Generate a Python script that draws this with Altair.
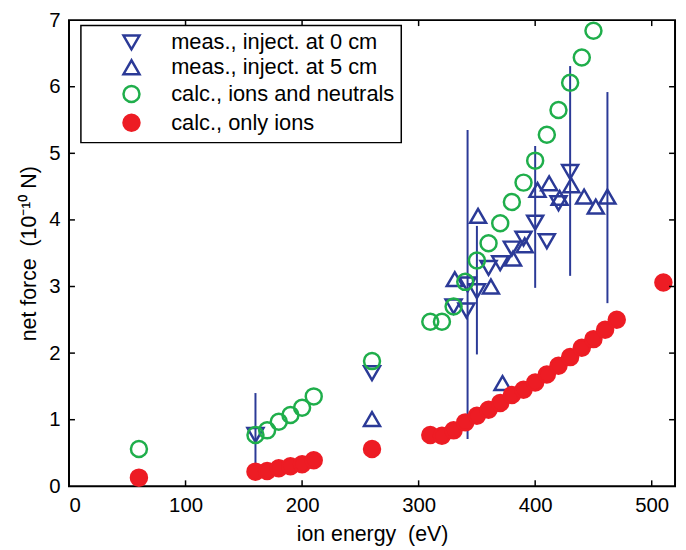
import altair as alt
import pandas as pd

# ---- data ----
down_energy = [160, 260, 330, 341, 342, 350, 360, 370, 380, 390, 400, 410, 420, 430]
down_force = [0.77, 1.70, 2.70, 2.64, 3.03, 2.93, 3.28, 3.35, 3.57, 3.72, 3.96, 3.68, 4.25, 4.72]

up_energy = [260, 331, 351, 362, 372, 381, 391, 402, 412, 421, 431, 442, 452, 462]
up_force = [1.01, 3.11, 4.06, 3.00, 1.55, 3.42, 3.62, 4.45, 4.55, 4.33, 4.52, 4.35, 4.20, 4.35]

green_energy = [60, 160, 170, 180, 190, 200, 210, 260, 310, 320, 330, 340, 350,
                360, 370, 380, 390, 400, 410, 420, 430, 440, 450]
green_force = [0.56, 0.77, 0.84, 0.97, 1.07, 1.18, 1.35, 1.88, 2.47, 2.47, 2.70, 3.07, 3.39,
               3.65, 3.95, 4.27, 4.56, 4.89, 5.28, 5.65, 6.06, 6.44, 6.84]

red_energy = [60, 160, 170, 180, 190, 200, 210, 260, 310, 320, 330, 340, 350, 360, 370,
              380, 390, 400, 410, 420, 430, 440, 450, 460, 470, 510]
red_force = [0.13, 0.22, 0.23, 0.27, 0.30, 0.33, 0.39, 0.56, 0.77, 0.76, 0.84, 0.96, 1.06,
             1.15, 1.25, 1.37, 1.45, 1.56, 1.68, 1.81, 1.94, 2.08, 2.21, 2.35, 2.50, 3.06]

err_energy = [160, 342, 350, 400, 430, 462]
err_low = [0.14, 0.71, 1.98, 2.98, 3.16, 2.75]
err_high = [1.40, 5.35, 3.91, 5.11, 6.31, 5.92]

series_names = ["meas., inject. at 0 cm", "meas., inject. at 5 cm",
                "calc., ions and neutrals", "calc., only ions"]
x_ticks = [100, 200, 300, 400, 500]
y_ticks = [1, 2, 3, 4, 5, 6]

BLUE = "#2b3a97"
GREEN = "#1fae4b"
RED = "#ed1c24"
FONT = "Liberation Sans"
W, H = 611, 470
TL = 6

rows = []
for e, f in zip(down_energy, down_force):
    rows.append({"energy": e, "force": f, "series": series_names[0]})
for e, f in zip(up_energy, up_force):
    rows.append({"energy": e, "force": f, "series": series_names[1]})
for e, f in zip(green_energy, green_force):
    rows.append({"energy": e, "force": f, "series": series_names[2]})
for e, f in zip(red_energy, red_force):
    rows.append({"energy": e, "force": f, "series": series_names[3]})
pts = pd.DataFrame(rows)
pts["order"] = range(len(pts))

errs = pd.DataFrame({"energy": err_energy, "lo": err_low, "hi": err_high})
xt = pd.DataFrame({"v": x_ticks})
yt = pd.DataFrame({"v": y_ticks})

xscale = alt.Scale(domain=[0, 520], nice=False, zero=False)
yscale = alt.Scale(domain=[0, 7], nice=False, zero=False)

NB = "\u00a0"
xaxis = alt.Axis(values=[0, 100, 200, 300, 400, 500], format="d", ticks=False, domain=False,
                 grid=False, labelFont=FONT, labelFontSize=20.5, labelColor="black",
                 labelPadding=9, title="ion energy" + NB + NB + "(eV)", titleFont=FONT,
                 titleFontSize=21.5, titleFontWeight="normal", titleColor="black",
                 titlePadding=8)
yaxis = alt.Axis(values=[0, 1, 2, 3, 4, 5, 6, 7], format="d", ticks=False, domain=False,
                 grid=False, labelFont=FONT, labelFontSize=20.5, labelColor="black",
                 labelPadding=9, title="net force" + NB + NB + "(10⁻¹⁰" + NB + "N)",
                 titleFont=FONT, titleFontSize=21.5, titleFontWeight="normal",
                 titleColor="black", titlePadding=8)

errbars = alt.Chart(errs).mark_rule(color=BLUE, strokeWidth=2).encode(
    x=alt.X("energy:Q", scale=xscale, axis=xaxis),
    y=alt.Y("lo:Q", scale=yscale, axis=yaxis),
    y2="hi:Q",
)

points = alt.Chart(pts).mark_point(filled=False, strokeWidth=2.5, opacity=1).encode(
    x=alt.X("energy:Q", scale=xscale),
    y=alt.Y("force:Q", scale=yscale),
    color=alt.Color("series:N", scale=alt.Scale(domain=series_names,
                                                 range=[BLUE, BLUE, GREEN, RED]),
                    legend=alt.Legend(title=None)),
    fill=alt.Fill("series:N", scale=alt.Scale(domain=series_names,
                                               range=["transparent", "transparent",
                                                      "transparent", RED]),
                  legend=alt.Legend(title=None)),
    shape=alt.Shape("series:N", scale=alt.Scale(domain=series_names,
                                                 range=["triangle-down", "triangle-up",
                                                        "circle", "circle"]),
                    legend=alt.Legend(title=None)),
    size=alt.Size("series:N", scale=alt.Scale(domain=series_names,
                                               range=[260, 260, 160, 215]),
                  legend=alt.Legend(title=None)),
    order="order:Q",
)

tick_bottom = alt.Chart(xt).mark_rule(color="black", strokeWidth=1.5).encode(
    x=alt.X("v:Q", scale=xscale), y=alt.value(H), y2=alt.value(H - TL))
tick_top = alt.Chart(xt).mark_rule(color="black", strokeWidth=1.5).encode(
    x=alt.X("v:Q", scale=xscale), y=alt.value(0), y2=alt.value(TL))
tick_left = alt.Chart(yt).mark_rule(color="black", strokeWidth=1.5).encode(
    y=alt.Y("v:Q", scale=yscale), x=alt.value(0), x2=alt.value(TL))
tick_right = alt.Chart(yt).mark_rule(color="black", strokeWidth=1.5).encode(
    y=alt.Y("v:Q", scale=yscale), x=alt.value(W), x2=alt.value(W - TL))

chart = alt.layer(errbars, points, tick_bottom, tick_top, tick_left, tick_right).properties(
    width=W, height=H,
    autosize=alt.AutoSizeParams(type="none"),
    padding={"left": 61.5, "top": 10, "right": 3, "bottom": 62},
).configure_view(
    stroke="black", strokeWidth=2
).configure_legend(
    orient="none", legendX=12, legendY=5.5,
    strokeColor="black", strokeWidth=1.5, fillColor="white",
    padding=6, labelFont=FONT, labelFontSize=22, labelColor="black",
    symbolStrokeWidth=2.5, symbolOffset=34, labelOffset=29, rowPadding=1,
    labelLimit=400,
)

chart.save("out.html", embed_options={"renderer": "svg", "actions": False})
